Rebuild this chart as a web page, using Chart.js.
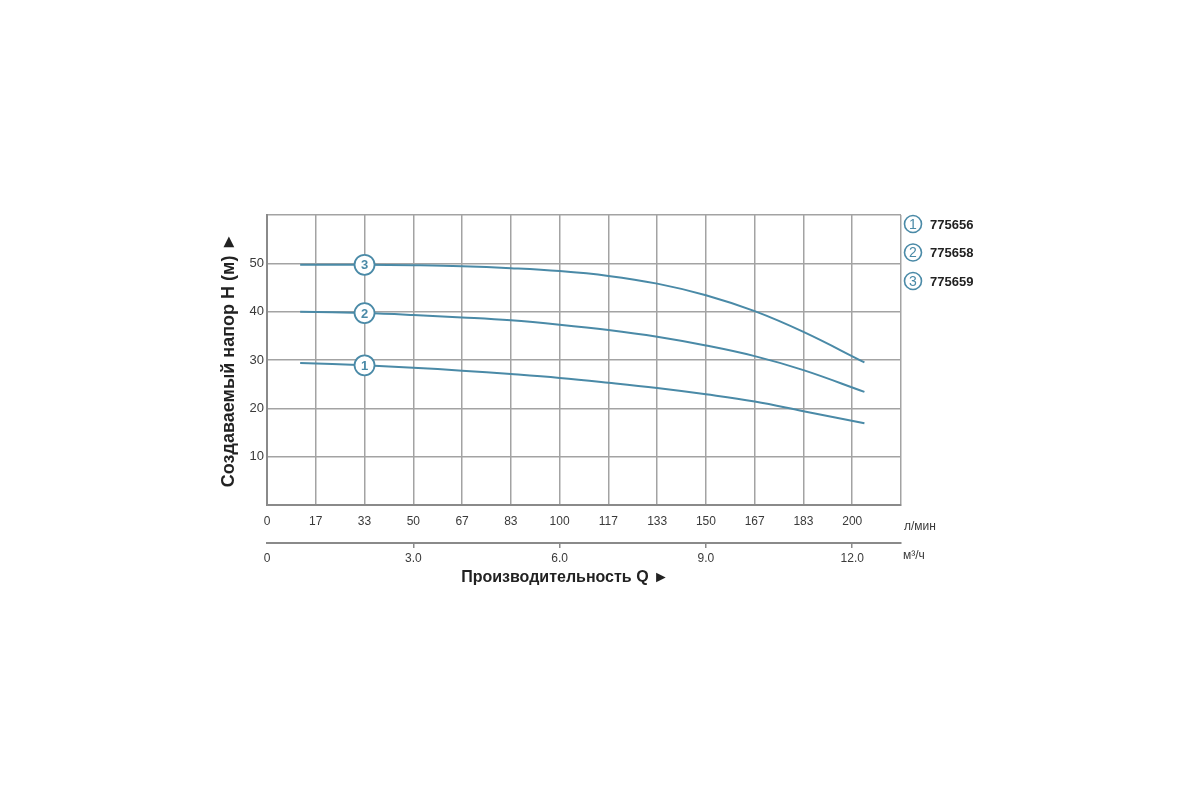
<!DOCTYPE html>
<html>
<head>
<meta charset="utf-8">
<script src="https://cdn.jsdelivr.net/npm/chart.js@4.4.1/dist/chart.umd.min.js"></script>
<style>
  html, body { margin: 0; padding: 0; background: #fff; }
  #wrap { width: 1200px; height: 800px; }
</style>
</head>
<body>
<div id="wrap"><canvas id="pump"></canvas></div>
<script>
// flow in m3/h (lower axis), head in metres
const flowM3h = [0.68, 2, 3, 4, 5, 6, 7, 8, 9, 10, 11, 12.25]
const head775656 = [29.4, 28.9, 28.4, 27.8, 27.1, 26.3, 25.3, 24.2, 22.9, 21.4, 19.4, 16.9]
const head775658 = [40.0, 39.7, 39.3, 38.8, 38.2, 37.3, 36.2, 34.8, 33.0, 30.8, 27.9, 23.4]
const head775659 = [49.7, 49.7, 49.6, 49.4, 49.0, 48.4, 47.4, 45.8, 43.4, 40.1, 35.8, 29.5]
const models = ['775656', '775658', '775659']
const m3hTicks = [0, 3, 6, 9, 12]
const headTicks = [10, 20, 30, 40, 50]

const blue = '#4a8aa7'
const gridGray = '#a3a3a3'
const textGray = '#3a3a3a'
const narrow = "'Liberation Sans Narrow', 'Liberation Sans', Arial, sans-serif"
const sans = "'Liberation Sans', Arial, sans-serif"

const toPoints = (ys) => ys.map((y, i) => ({ x: flowM3h[i], y: y }))

// numbered circle on each curve + legend on the right + unit labels
const markers = {
  id: 'markers',
  afterDatasetsDraw(chart) {
    const ctx = chart.ctx
    ctx.save()
    ctx.textAlign = 'center'
    ctx.textBaseline = 'middle'
    ctx.font = 'bold 13px ' + sans
    ctx.fillStyle = blue
    chart.data.datasets.forEach((ds, i) => {
      const pt = chart.getDatasetMeta(i).data[1]
      ctx.fillText(String(i + 1), pt.x, pt.y + 1)
    })
    ctx.restore()
  },
  afterDraw(chart) {
    const ctx = chart.ctx
    const area = chart.chartArea
    ctx.save()
    // legend
    models.forEach((m, i) => {
      const cx = area.right + 12
      const cy = area.top + 9 + i * 28.5
      ctx.beginPath()
      ctx.arc(cx, cy, 8.5, 0, Math.PI * 2)
      ctx.lineWidth = 1.6
      ctx.strokeStyle = blue
      ctx.stroke()
      ctx.fillStyle = blue
      ctx.font = '14px ' + sans
      ctx.textAlign = 'center'
      ctx.textBaseline = 'middle'
      ctx.fillText(String(i + 1), cx, cy + 1)
      ctx.fillStyle = '#222'
      ctx.font = 'bold 13px ' + sans
      ctx.textAlign = 'left'
      ctx.fillText(m, cx + 17, cy + 1)
    })
    // units
    ctx.fillStyle = textGray
    ctx.font = '12px ' + narrow
    ctx.textAlign = 'left'
    ctx.textBaseline = 'middle'
    ctx.fillText('л/мин', area.right + 3, area.bottom + 22)
    ctx.fillText('м³/ч', area.right + 2, area.bottom + 51)
    // x title
    ctx.fillStyle = '#222'
    ctx.font = 'bold 16px ' + sans
    ctx.textAlign = 'center'
    ctx.fillText('Производительность Q ►', (area.left + area.right) / 2 - 19, area.bottom + 73)
    ctx.restore()
  }
}

const mkSet = (label, ys) => ({
  label: label,
  data: toPoints(ys),
  borderColor: blue,
  borderWidth: 2,
  fill: false,
  tension: 0.4,
  pointRadius: (c) => c.dataIndex === 1 ? 10 : 0,
  pointHoverRadius: (c) => c.dataIndex === 1 ? 10 : 0,
  pointBackgroundColor: '#fff',
  pointBorderColor: blue,
  pointBorderWidth: 1.8
})

new Chart(document.getElementById('pump'), {
  type: 'line',
  data: {
    datasets: [
      mkSet(models[0], head775656),
      mkSet(models[1], head775658),
      mkSet(models[2], head775659)
    ]
  },
  options: {
    responsive: true,
    maintainAspectRatio: false,
    animation: false,
    layout: { padding: { left: 195, right: 299, top: 215, bottom: 207 } },
    plugins: {
      legend: { display: false },
      tooltip: { enabled: false }
    },
    scales: {
      x: {
        type: 'linear',
        position: 'bottom',
        min: 0,
        max: 13,
        afterFit: (s) => { s.height = 38 },
        grid: { color: gridGray, lineWidth: 1.5, drawTicks: false },
        border: { color: '#8a8a8a', width: 2 },
        ticks: {
          stepSize: 1,
          padding: 9,
          color: textGray,
          font: { family: narrow, size: 12 },
          callback: (v) => v === 13 ? '' : String(Math.round(v * 1000 / 60))
        }
      },
      x2: {
        type: 'linear',
        position: 'bottom',
        min: 0,
        max: 13,
        afterFit: (s) => { s.height = 50 },
        afterBuildTicks: (s) => { s.ticks = m3hTicks.map((v) => ({ value: v })) },
        grid: {
          drawOnChartArea: false,
          tickLength: 5,
          lineWidth: 1.5,
          color: (c) => c.tick && c.tick.value === 0 ? 'rgba(0,0,0,0)' : '#8a8a8a'
        },
        border: { color: '#8a8a8a', width: 2 },
        ticks: {
          padding: 3,
          color: textGray,
          font: { family: narrow, size: 12 },
          callback: (v) => v === 0 ? '0' : v.toFixed(1)
        }
      },
      y: {
        min: 0,
        max: 60,
        afterFit: (s) => { s.width = 72 },
        grid: { color: gridGray, lineWidth: 1.5, drawTicks: false },
        border: { color: '#8a8a8a', width: 2 },
        ticks: {
          stepSize: 10,
          padding: 3,
          color: textGray,
          font: { family: narrow, size: 13 },
          callback: (v) => headTicks.includes(v) ? String(v) : ''
        },
        title: {
          display: true,
          text: 'Создаваемый напор H (м) ►',
          color: '#222',
          font: { family: sans, size: 18, weight: 'bold' },
          padding: { top: 23, bottom: 0 }
        }
      }
    }
  },
  plugins: [markers]
})
</script>
</body>
</html>
